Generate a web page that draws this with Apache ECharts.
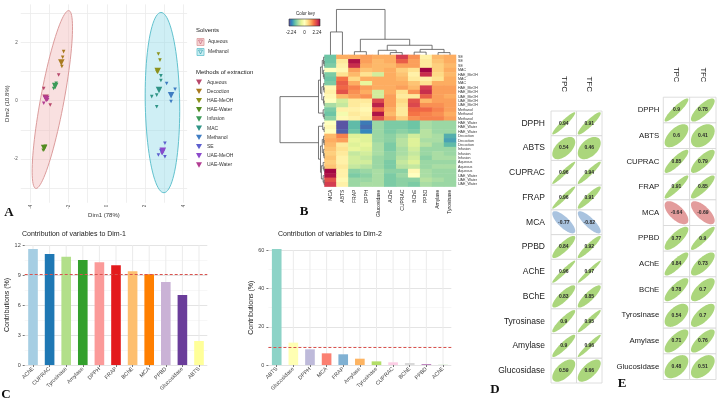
<!DOCTYPE html>
<html><head><meta charset="utf-8">
<script src="https://cdn.jsdelivr.net/npm/echarts/dist/echarts.min.js"></script>
<style>html,body{margin:0;padding:0;background:#fff}#c{width:720px;height:400px}</style>
</head><body><div id="c"></div>
<script>
// ---------- Panel A : PCA ----------
const pcaMethods = ['Aqueous','Decoction','HAE-MeOH','HAE-Water','Infusion','MAC','Methanol','SE','UAE-MeOH','UAE-Water'];
// replicate points: [method index, Dim1, Dim2]
const pcaReplicates = [
  [1,-2.26,1.68],[1,-2.31,1.49],[1,-2.35,1.17],
  [0,-2.52,0.88],[0,-3.30,0.42],[0,-2.96,-0.15],
  [4,-2.65,0.60],[4,-2.78,0.42],[4,-2.72,0.47],
  [3,-3.22,-1.56],[3,-3.33,-1.70],[3,-3.26,-1.64],
  [9,-3.25,0.12],[9,-3.30,-0.09],[9,-3.10,0.03],
  [2,2.70,1.60],[2,2.78,1.39],[2,2.62,1.00],
  [5,2.83,0.85],[5,2.83,0.69],[5,2.61,0.19],[5,2.35,0.14],[5,2.61,-0.21],
  [6,3.13,0.59],[6,3.57,0.39],[6,3.36,-0.03],
  [7,3.04,-1.46],[7,2.70,-1.86],[7,3.04,-1.92],
  [8,2.96,-1.70],[8,2.88,-1.80]
];
// group centroids: [method index, Dim1, Dim2]
const pcaCentroids = [
  [0,-3.20,0.10],[1,-2.38,1.31],[2,2.66,1.02],[3,-3.28,-1.62],[4,-2.70,0.50],
  [5,2.73,0.37],[6,3.36,0.19],[7,2.90,-1.76],[8,2.93,-1.72],[9,-3.17,0.06]
];
const solventNames = ['Aqueous','Methanol'];
const ellipseCenter = [[-2.85,0.04],[2.91,-0.065]];
const ellipseSemiAxes = [[3.17,0.60],[3.09,0.90]];
const ellipseAngleDeg = [73.8, 91.5];

// ---------- Panel B : heatmap ----------
const heatCols = ['MCA','ABTS','FRAP','DPPH','Glucosidase','AChE','CUPRAC','BChE','PPBD','Amylase','Tyrosinase'];
const heatRows = ['SE','SE','SE','MAC','HAE_MeOH','MAC','MAC','HAE_MeOH','HAE_MeOH','UAE_MeOH','UAE_MeOH','UAE_MeOH','Methanol','Methanol','Methanol',
  'HAE_Water','HAE_Water','HAE_Water','Decoction','Decoction','Decoction','Infusion','Infusion','Infusion','Aqueous','Aqueous','Aqueous','UAE_Water','UAE_Water','UAE_Water'];
const heatValues = [
  [-1.3, 0.9, 0.9, 1.0, 0.9, 0.9, 1.8, 1.1, 0.2, 0.8, 0.9],
  [-1.3, 0.3, 2.1, 1.0, 0.8, 0.9, 1.5, 1.0, 0.3, 0.7, 0.9],
  [-1.2, 0.2, 1.9, 0.9, 0.8, 0.8, 1.0, 1.0, 0.3, 0.6, 0.8],
  [ 0.0, 0.1, 1.0, 0.7, 0.8, 0.9, 0.6, 0.4, 2.2, 0.6, 0.9],
  [-1.2, 0.4, 0.8, 0.4,-0.6, 0.9, 0.7, 0.2, 1.9, 0.5, 0.8],
  [-1.3, 1.3, 0.5, 0.9, 0.9, 0.9, 0.8, 0.3, 0.2, 0.4, 0.9],
  [-1.2, 1.5, 0.9,-0.4, 0.9, 0.9, 0.9, 0.7, 0.4, 0.9, 0.9],
  [ 0.1, 1.4, 1.2, 1.0, 0.9, 0.9, 1.0, 0.8, 1.8, 1.0, 1.0],
  [ 0.2, 1.6, 1.1, 0.9,-0.6, 0.9, 0.4, 1.1, 1.9, 1.0, 1.0],
  [ 0.1, 0.8, 1.0, 1.1,-0.6, 1.0, 0.3, 0.3, 1.5, 1.0, 0.9],
  [ 0.0,-0.6, 0.3, 0.3, 1.7, 1.0, 0.5, 1.6, 0.8, 1.0, 1.0],
  [-0.9,-0.7, 0.3, 0.2, 2.0, 1.0, 0.4, 1.7, 1.1, 1.1, 1.0],
  [-1.2, 0.2, 0.2, 0.1, 1.4, 0.9, 0.3, 1.4, 1.4, 1.2, 1.0],
  [-1.3,-0.2, 0.3, 0.2, 2.1, 0.8, 0.3, 1.3, 1.2, 1.1, 0.9],
  [-1.1, 0.1, 0.2, 0.3, 1.6, 1.0, 0.6, 1.1, 1.2, 1.2, 1.0],
  [ 0.0,-2.2,-1.4,-1.9,-1.0,-1.2,-1.2,-1.3,-0.9,-1.0,-1.0],
  [ 0.1,-2.2,-1.4,-2.0,-1.0,-1.2,-1.2,-1.3,-0.9,-1.0,-1.0],
  [ 0.0,-2.1,-1.3,-1.8,-1.0,-1.2,-1.1,-1.2,-0.8,-1.0,-1.0],
  [ 0.8, 1.2,-0.5,-0.5,-1.0,-1.1,-0.9,-0.6,-0.8,-0.9,-1.5],
  [ 0.9, 1.0,-0.4,-0.5,-1.0,-1.1,-0.8,-0.5,-0.9,-0.9,-1.6],
  [ 0.8, 0.3,-0.5,-0.4,-0.9,-1.2,-0.8,-0.5,-0.8,-1.0,-1.4],
  [ 0.7, 0.4,-0.4,-0.5,-0.9,-1.2,-0.9,-0.6,-1.0,-1.0,-1.0],
  [ 0.6, 0.3,-0.7,-0.6,-0.9,-1.1,-0.9,-0.7,-1.0,-0.9,-1.0],
  [ 0.7, 0.2,-0.6,-0.7,-1.0,-1.1,-0.8,-0.6,-1.1,-0.9,-0.9],
  [ 0.6, 0.2,-0.6,-0.6,-1.0,-1.2,-0.7,-0.5,-1.0,-1.0,-1.0],
  [ 0.7, 0.3,-0.7,-0.8,-1.0,-1.2,-0.8,-0.7,-1.0,-0.9,-0.9],
  [ 2.2, 0.2,-1.1,-1.0,-0.9,-1.1,-1.1, 0.1,-0.9,-1.0,-1.0],
  [ 2.1, 0.2,-1.2,-1.1,-0.9,-1.2,-1.0, 0.0,-0.9,-1.0,-1.0],
  [ 1.6, 0.1,-1.0,-1.0,-0.9,-1.2,-1.1,-1.1,-0.8,-0.9,-1.0],
  [ 1.8, 0.2,-1.0,-0.9,-0.9,-1.2,-1.1,-1.2,-0.9,-1.0,-1.0]
];
const colorKeyTicks = ['-2.24','0','2.24'];
// dendrograms: [height, left, right]; leaves are column/row indices
const colDendrogram = [9.9,[5.0,0,1],[3.4,[0.7,2,3],[2.1,[1.0,4,[0.5,5,6]],[1.2,[0.6,7,8],[0.5,9,10]]]]];
const rowDendrogram = [10,
  [1.35,[0.9,[0.5,[0.2,0,[0.1,1,2]],[0.25,3,[0.1,4,5]]],[0.6,[0.2,6,[0.1,7,8]],[0.2,9,[0.1,10,11]]]],[0.3,12,[0.1,13,14]]],
  [1.35,[0.4,15,[0.1,16,17]],[0.9,[0.5,[0.2,18,[0.1,19,20]],[0.2,21,[0.1,22,23]]],[0.7,[0.3,24,[0.1,25,26]],[0.3,27,[0.1,28,29]]]]]];

// ---------- Panel C : contributions ----------
const dim1Vars = ['AChE','CUPRAC','Tyrosinase','Amylase','DPPH','FRAP','BChE','MCA','PPBD','Glucosidase','ABTS'];
const dim1Values = [11.6,11.1,10.83,10.5,10.27,9.97,9.37,9.07,8.3,7.0,2.4];
const dim2Vars = ['ABTS','Glucosidase','DPPH','MCA','FRAP','Amylase','Tyrosinase','CUPRAC','BChE','PPBD','AChE'];
const dim2Values = [60.7,11.7,8.2,6.1,5.6,3.3,1.9,1.4,1.05,0.5,0.2];
const refLine = 9.09;

// ---------- Panels D, E : correlations ----------
const corrVars = ['DPPH','ABTS','CUPRAC','FRAP','MCA','PPBD','AChE','BChE','Tyrosinase','Amylase','Glucosidase'];
const corrCols = ['TPC','TFC'];
const corrD_TPC = [0.94,0.54,0.96,0.96,-0.77,0.84,0.96,0.83,0.9,0.9,0.59];
const corrD_TFC = [0.91,0.46,0.94,0.91,-0.82,0.92,0.97,0.85,0.95,0.96,0.66];
const corrE_TPC = [0.9,0.6,0.85,0.91,-0.64,0.77,0.84,0.78,0.54,0.71,0.48];
const corrE_TFC = [0.78,0.41,0.79,0.85,-0.69,0.9,0.73,0.7,0.7,0.76,0.51];

// ================= styles / build =================
const FONT = 'Liberation Sans';
const methodColors = ['#b8486c','#a97b1f','#8c911b','#538c21','#3c9a58','#2f9486','#3f7cc2','#5d5fce','#8c4acb','#b23c92'];
const ellipseFill = ['rgba(240,180,180,0.42)','rgba(140,218,230,0.42)'];
const ellipseStroke = ['#dc9c9c','#62c2ce'];
const spectralRev = ['#5e4fa2','#3288bd','#66c2a5','#abdda4','#e6f598','#ffffbf','#fee08b','#fdae61','#f46d43','#d53e4f','#9e0142'];
const paired = ['#A6CEE3','#1F78B4','#B2DF8A','#33A02C','#FB9A99','#E31A1C','#FDBF6F','#FF7F00','#CAB2D6','#6A3D9A','#FFFF99'];
const set3 = ['#8DD3C7','#FFFFB3','#BEBADA','#FB8072','#80B1D3','#FDB462','#B3DE69','#FCCDE5','#D9D9D9','#BC80BD','#CCEBC5'];
const gridCol = '#ebebeb';

function flattenTree(node, out){
  if (typeof node === 'number') return {p: node + 0.5, h: 0};
  const L = flattenTree(node[1], out), R = flattenTree(node[2], out);
  out.push([L.p, L.h, R.p, R.h, node[0]]);
  return {p: (L.p + R.p) / 2, h: node[0]};
}
const colSegs = []; flattenTree(colDendrogram, colSegs);
const rowSegs = []; flattenTree(rowDendrogram, rowSegs);

const evenLabel = v => { const r = Math.round(v); if (Math.abs(v - r) > 1e-6 || r % 2 !== 0) return ''; return String(r); };

const series = [];
series.push({
  type:'custom', name:'solvent-ellipse', xAxisIndex:0, yAxisIndex:0, z:1, silent:true,
  data: solventNames.map((n,i)=>[ellipseCenter[i][0],ellipseCenter[i][1],ellipseSemiAxes[i][0],ellipseSemiAxes[i][1],ellipseAngleDeg[i],i]),
  encode:{x:0,y:1},
  renderItem:(params, api)=>{
    const cx=api.value(0), cy=api.value(1), a=api.value(2), b=api.value(3), th=api.value(4)*Math.PI/180, idx=api.value(5);
    const pts=[];
    for(let k=0;k<=90;k++){const t=k/90*2*Math.PI;const u=a*Math.cos(t),v=b*Math.sin(t);
      pts.push(api.coord([cx+u*Math.cos(th)-v*Math.sin(th), cy+u*Math.sin(th)+v*Math.cos(th)]));}
    return {type:'polygon', shape:{points:pts}, style:{fill:ellipseFill[idx], stroke:ellipseStroke[idx], lineWidth:1}};
  }
});
pcaMethods.forEach((m,i)=>{
  const data = pcaReplicates.filter(p=>p[0]===i).map(p=>({value:[p[1],p[2]], symbolSize:3.6}));
  pcaCentroids.filter(p=>p[0]===i).forEach(p=>data.push({value:[p[1],p[2]], symbolSize:6.5}));
  series.push({type:'scatter', name:m, xAxisIndex:0, yAxisIndex:0, z:3, symbol:'triangle', symbolRotate:180,
    itemStyle:{color:methodColors[i], opacity:1}, data});
});
const heatData = [];
heatValues.forEach((row,r)=>row.forEach((v,c)=>heatData.push([c,r,v])));
const heatSeriesIndex = series.length;
series.push({type:'heatmap', name:'heat', xAxisIndex:1, yAxisIndex:1, data:heatData, itemStyle:{borderWidth:0}});
series.push({type:'custom', name:'col-dendro', xAxisIndex:2, yAxisIndex:2, silent:true, data:colSegs, encode:{x:0,y:1},
  renderItem:(p,api)=>{const a=api.coord([api.value(0),api.value(1)]),b=api.coord([api.value(0),api.value(4)]),c=api.coord([api.value(2),api.value(4)]),d=api.coord([api.value(2),api.value(3)]);
    return {type:'polyline', shape:{points:[a,b,c,d]}, style:{stroke:'#555', lineWidth:0.8, fill:null}};}});
series.push({type:'custom', name:'row-dendro', xAxisIndex:3, yAxisIndex:3, silent:true, data:rowSegs, encode:{x:1,y:0},
  renderItem:(p,api)=>{const a=api.coord([api.value(1),api.value(0)]),b=api.coord([api.value(4),api.value(0)]),c=api.coord([api.value(4),api.value(2)]),d=api.coord([api.value(3),api.value(2)]);
    return {type:'polyline', shape:{points:[a,b,c,d]}, style:{stroke:'#555', lineWidth:0.8, fill:null}};}});
function barSeries(vars, vals, colors, xi){
  // vertical grid lines at each category (drawn beneath the bars)
  series.push({type:'custom', name:'vgrid'+xi, xAxisIndex:xi, yAxisIndex:xi, z:1, silent:true,
    data: vars.map((v,i)=>[i]), encode:{x:0},
    renderItem:(p,api)=>{const x=api.coord([api.value(0),0])[0]; const cs=p.coordSys;
      return {type:'line', shape:{x1:x,y1:cs.y,x2:x,y2:cs.y+cs.height}, style:{stroke:gridCol, lineWidth:1}};}});
  series.push({type:'bar', name:'contrib'+xi, xAxisIndex:xi, yAxisIndex:xi, z:2, barWidth:'58%', clip:false,
    data: vals.map((v,i)=>({value:v, itemStyle:{color:colors[i]}})),
    markLine:{silent:true, symbol:'none', label:{show:false}, lineStyle:{color:'#d9534f', type:[3,2], width:1}, animation:false,
      data:[{yAxis:refLine}]}});
}
barSeries(dim1Vars, dim1Values, paired, 4);
barSeries(dim2Vars, dim2Values, set3, 5);
function corrSeries(tpc, tfc, xi, negColor){
  const data=[];
  corrVars.forEach((v,r)=>{data.push([0,r,tpc[r]]); data.push([1,r,tfc[r]]);});
  series.push({type:'custom', name:'corr'+xi, xAxisIndex:xi, yAxisIndex:xi, silent:true, data, encode:{x:0,y:1},
    renderItem:(p,api)=>{
      const c=api.coord([api.value(0),api.value(1)]), s=api.size([1,1]), r=api.value(2);
      const ac=Math.acos(r), pts=[];
      for(let k=0;k<=72;k++){const t=k/72*2*Math.PI;
        pts.push([c[0]+Math.cos(t+ac/2)/2*s[0]*0.9, c[1]-Math.cos(t-ac/2)/2*s[1]*0.9]);}
      return {type:'group', children:[
        {type:'rect', shape:{x:c[0]-s[0]/2, y:c[1]-s[1]/2, width:s[0], height:s[1]}, style:{fill:'#fff', stroke:'#d6d6d6', lineWidth:0.8}},
        {type:'polygon', shape:{points:pts}, style:{fill: r>=0 ? '#abd67c' : negColor, stroke:null}},
        {type:'text', style:{text:String(r), x:c[0], y:c[1], align:'center', verticalAlign:'middle', fontSize:5, fontWeight:'bold', fill:'#2a2a2a', fontFamily:FONT}}
      ]};
    }});
}
corrSeries(corrD_TPC, corrD_TFC, 6, '#a9c3df');
corrSeries(corrE_TPC, corrE_TFC, 7, '#e39c9c');

const hideAxis = {axisLine:{show:false}, axisTick:{show:false}, splitLine:{show:false}, axisLabel:{show:false}};
const halfLines = {lineStyle:{color:['rgba(0,0,0,0)', gridCol], width:0.8}};

const option = {
  animation:false, backgroundColor:'#fff', textStyle:{fontFamily:FONT},
  title:[
    {text:'Contribution of variables to Dim-1', left:22, top:231, padding:0, textStyle:{fontSize:7, fontWeight:'normal', color:'#222', fontFamily:FONT}},
    {text:'Contribution of variables to Dim-2', left:278, top:231, padding:0, textStyle:{fontSize:7, fontWeight:'normal', color:'#222', fontFamily:FONT}}
  ],
  legend:{orient:'vertical', left:196, top:79.5, padding:0, itemWidth:6, itemHeight:6, itemGap:3.8, selectedMode:false,
    icon:'path://M0,0L10,0L5,9Z', data:pcaMethods, textStyle:{fontSize:5, color:'#333', fontFamily:FONT}},
  visualMap:{show:false, min:-2.24, max:2.24, seriesIndex:heatSeriesIndex, inRange:{color:spectralRev}},
  grid:[
    {left:20.8, top:4.4, width:166.3, height:198.4},
    {left:324.5, top:54.9, width:131.5, height:131.7},
    {left:324.5, top:9, width:131.5, height:45.9},
    {left:280, top:54.9, width:44.5, height:131.7},
    {left:24.7, top:245, width:182.6, height:120},
    {left:268.4, top:250.3, width:182.9, height:114.7},
    {left:551, top:111, width:51, height:272},
    {left:663.3, top:97.2, width:52.7, height:282.3}
  ],
  xAxis:[
    {gridIndex:0, type:'value', min:-4.5, max:4.2, interval:0.5, name:'Dim1 (78%)', nameLocation:'middle', nameGap:10,
      nameTextStyle:{fontSize:6, color:'#333'}, axisLine:{show:false}, axisTick:{show:false},
      splitLine:halfLines,
      axisLabel:{rotate:90, fontSize:4.5, color:'#555', margin:2, formatter:evenLabel}},
    {gridIndex:1, type:'category', data:heatCols, axisLine:{show:false}, axisTick:{show:false}, splitLine:{show:false},
      axisLabel:{rotate:90, fontSize:5, color:'#222', margin:3, interval:0}},
    Object.assign({gridIndex:2, type:'value', min:0, max:11}, hideAxis),
    Object.assign({gridIndex:3, type:'value', min:0, max:10, inverse:true}, hideAxis),
    {gridIndex:4, type:'category', data:dim1Vars, axisLine:{show:false}, axisTick:{show:true, alignWithLabel:true, length:2, lineStyle:{color:'#777'}},
      axisLabel:{rotate:45, fontSize:5.5, color:'#444', margin:3, interval:0}},
    {gridIndex:5, type:'category', data:dim2Vars, axisLine:{show:false}, axisTick:{show:true, alignWithLabel:true, length:2, lineStyle:{color:'#777'}},
      axisLabel:{rotate:45, fontSize:5.5, color:'#444', margin:3, interval:0}},
    {gridIndex:6, type:'category', data:corrCols, position:'top', axisLine:{show:false}, axisTick:{show:false},
      axisLabel:{rotate:90, fontSize:8, color:'#222', margin:19, interval:0}},
    {gridIndex:7, type:'category', data:corrCols, position:'top', axisLine:{show:false}, axisTick:{show:false},
      axisLabel:{rotate:90, fontSize:7.5, color:'#222', margin:15, interval:0}}
  ],
  yAxis:[
    {gridIndex:0, type:'value', min:-3.5, max:3.3, interval:0.5, name:'Dim2 (10.8%)', nameLocation:'middle', nameGap:7.5, nameRotate:90,
      nameTextStyle:{fontSize:6, color:'#333'}, axisLine:{show:false}, axisTick:{show:false},
      splitLine:halfLines,
      axisLabel:{fontSize:4.5, color:'#555', margin:3, formatter:evenLabel}},
    {gridIndex:1, type:'category', data:heatRows.map((n,i)=>String(i)), inverse:true, position:'right',
      axisLine:{show:false}, axisTick:{show:false}, splitLine:{show:false},
      axisLabel:{fontSize:3.6, color:'#333', margin:2, interval:0, formatter:(v,i)=>heatRows[i]}},
    Object.assign({gridIndex:2, type:'value', min:0, max:10}, hideAxis),
    Object.assign({gridIndex:3, type:'value', min:0, max:30, inverse:true}, hideAxis),
    {gridIndex:4, type:'value', min:0, max:12, interval:3, name:'Contributions (%)', nameLocation:'middle', nameGap:14, nameRotate:90,
      nameTextStyle:{fontSize:7, color:'#222'}, axisLine:{show:false}, axisTick:{show:true, length:2, lineStyle:{color:'#777'}},
      splitLine:{lineStyle:{color:'#e4e4e4', width:1}}, minorTick:{show:false, splitNumber:2}, minorSplitLine:{show:true, lineStyle:{color:'#f1f1f1', width:0.6}},
      axisLabel:{fontSize:5.5, color:'#444', margin:4}},
    {gridIndex:5, type:'value', min:0, max:60, interval:20, name:'Contributions (%)', nameLocation:'middle', nameGap:12, nameRotate:90,
      nameTextStyle:{fontSize:7, color:'#222'}, axisLine:{show:false}, axisTick:{show:true, length:2, lineStyle:{color:'#777'}},
      splitLine:{lineStyle:{color:'#e4e4e4', width:1}}, minorTick:{show:false, splitNumber:2}, minorSplitLine:{show:true, lineStyle:{color:'#f1f1f1', width:0.6}},
      axisLabel:{fontSize:5.5, color:'#444', margin:4}},
    {gridIndex:6, type:'category', data:corrVars, inverse:true, axisLine:{show:false}, axisTick:{show:false},
      axisLabel:{fontSize:8.5, color:'#222', margin:6, interval:0}},
    {gridIndex:7, type:'category', data:corrVars, inverse:true, axisLine:{show:false}, axisTick:{show:false},
      axisLabel:{fontSize:7.8, color:'#222', margin:4, interval:0}}
  ],
  graphic:[
    {type:'text', left:196, top:27, style:{text:'Solvents', fontSize:6, fill:'#222', fontFamily:FONT}},
    {type:'rect', shape:{x:197, y:38.5, width:7, height:7}, style:{fill:'#f6d3d3', stroke:'#dc9c9c', lineWidth:0.8}},
    {type:'polygon', shape:{points:[[198.5,40],[202.5,40],[200.5,44]]}, style:{fill:null, stroke:'#c56a80', lineWidth:0.7}},
    {type:'text', left:208, top:39.5, style:{text:'Aqueous', fontSize:5, fill:'#333', fontFamily:FONT}},
    {type:'rect', shape:{x:197, y:48.5, width:7, height:7}, style:{fill:'#c9eef2', stroke:'#62c2ce', lineWidth:0.8}},
    {type:'polygon', shape:{points:[[198.5,50],[202.5,50],[200.5,54]]}, style:{fill:null, stroke:'#3aa0b0', lineWidth:0.7}},
    {type:'text', left:208, top:49.5, style:{text:'Methanol', fontSize:5, fill:'#333', fontFamily:FONT}},
    {type:'text', left:196, top:69, style:{text:'Methods of extraction', fontSize:6, fill:'#222', fontFamily:FONT}},
    {type:'text', left:296, top:11, style:{text:'Color key', fontSize:4.5, fill:'#222', fontFamily:FONT}},
    {type:'rect', shape:{x:289, y:19, width:31, height:7},
      style:{stroke:'#333', lineWidth:0.6, fill:new echarts.graphic.LinearGradient(0,0,1,0, spectralRev.map((c,i)=>({offset:i/(spectralRev.length-1), color:c})))}},
    {type:'text', x:291, y:33, style:{text:colorKeyTicks[0], fontSize:4.5, fill:'#222', align:'center', verticalAlign:'middle', fontFamily:FONT}},
    {type:'text', x:304.5, y:33, style:{text:colorKeyTicks[1], fontSize:4.5, fill:'#222', align:'center', verticalAlign:'middle', fontFamily:FONT}},
    {type:'text', x:317, y:33, style:{text:colorKeyTicks[2], fontSize:4.5, fill:'#222', align:'center', verticalAlign:'middle', fontFamily:FONT}},
    {type:'text', x:9, y:213, style:{text:'A', fontSize:13, fontWeight:'bold', fill:'#111', align:'center', verticalAlign:'middle', fontFamily:'Liberation Serif'}},
    {type:'text', x:304, y:212, style:{text:'B', fontSize:13, fontWeight:'bold', fill:'#111', align:'center', verticalAlign:'middle', fontFamily:'Liberation Serif'}},
    {type:'text', x:6, y:395, style:{text:'C', fontSize:13, fontWeight:'bold', fill:'#111', align:'center', verticalAlign:'middle', fontFamily:'Liberation Serif'}},
    {type:'text', x:495, y:390, style:{text:'D', fontSize:13, fontWeight:'bold', fill:'#111', align:'center', verticalAlign:'middle', fontFamily:'Liberation Serif'}},
    {type:'text', x:622, y:384, style:{text:'E', fontSize:13, fontWeight:'bold', fill:'#111', align:'center', verticalAlign:'middle', fontFamily:'Liberation Serif'}}
  ],
  series
};
const chart = echarts.init(document.getElementById('c'), null, {renderer:'canvas'});
chart.setOption(option);
</script></body></html>
